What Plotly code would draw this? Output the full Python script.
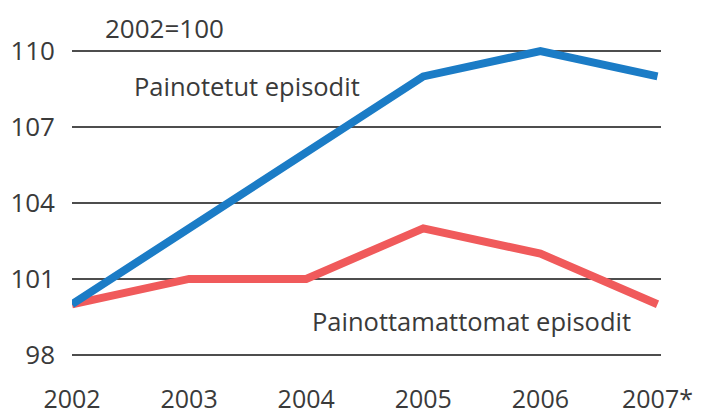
import plotly.graph_objects as go

years = [2002, 2003, 2004, 2005, 2006, 2007]
year_labels = ["2002", "2003", "2004", "2005", "2006", "2007*"]
painotetut = [100, 103, 106, 109, 110, 109]
painottamattomat = [100, 101, 101, 103, 102, 100]
y_ticks = [98, 101, 104, 107, 110]

FONT = "Open Sans"
TEXT = "#3a3a3a"

fig = go.Figure()
fig.add_trace(go.Scatter(x=years, y=painottamattomat, mode="lines",
                         line=dict(color="#f05a5b", width=8), hoverinfo="skip"))
fig.add_trace(go.Scatter(x=years, y=painotetut, mode="lines",
                         line=dict(color="#1b7cc6", width=8), hoverinfo="skip"))

fig.add_annotation(x=2002.79, xref="x", y=1.04, yref="paper", text="2002=100", showarrow=False,
                   xanchor="center", yanchor="middle", font=dict(size=26, color=TEXT, family=FONT))
fig.add_annotation(x=2002.51, y=108.62, text="Painotetut episodit", showarrow=False,
                   xanchor="left", yanchor="middle", font=dict(size=25.5, color=TEXT, family=FONT))
fig.add_annotation(x=2006.79, y=99.34, text="Painottamattomat episodit", showarrow=False,
                   xanchor="right", yanchor="middle", font=dict(size=25.5, color=TEXT, family=FONT))

# page body has an 8px margin, so the figure is drawn 8px smaller and offset
fig.update_layout(
    width=696, height=408,
    margin=dict(l=64, r=43, t=33, b=51),
    paper_bgcolor="white", plot_bgcolor="white",
    showlegend=False,
    font=dict(family=FONT, size=26, color=TEXT),
    xaxis=dict(range=[2002, 2007.03], tickvals=years, ticktext=year_labels,
               showgrid=False, zeroline=False, showline=False, ticks="",
               ticklabelstandoff=17, automargin=False,
               tickfont=dict(size=25, color=TEXT, family=FONT)),
    yaxis=dict(range=[97.6, 110.4], tickvals=y_ticks, showgrid=True,
               gridcolor="#4d4d4d", gridwidth=2, zeroline=False, showline=False,
               ticks="", ticklabelstandoff=16, automargin=False,
               tickfont=dict(size=26, color=TEXT, family=FONT)),
)

fig.write_html("out.html")
